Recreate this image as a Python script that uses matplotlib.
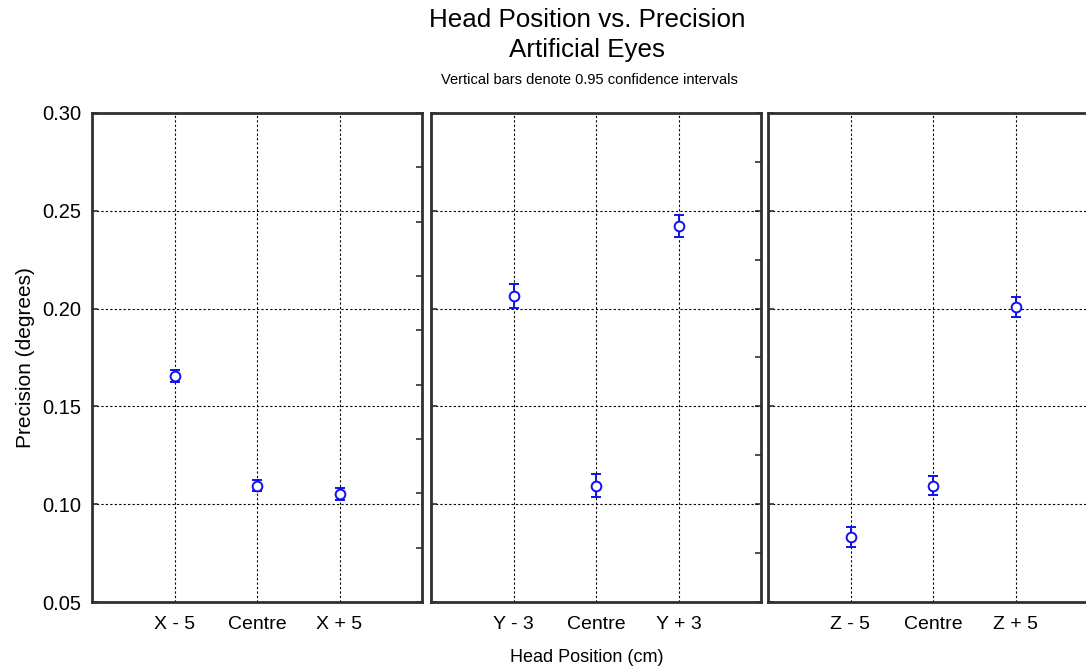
import numpy as np
import matplotlib
matplotlib.use("Agg")
import matplotlib.pyplot as plt

plt.rcParams['font.family'] = ['Liberation Sans', 'DejaVu Sans']

# data
labels_x = ["X - 5", "Centre", "X + 5"]
labels_y = ["Y - 3", "Centre", "Y + 3"]
labels_z = ["Z - 5", "Centre", "Z + 5"]
prec_x = [0.1655, 0.1095, 0.1053]
prec_y = [0.2065, 0.1095, 0.2423]
prec_z = [0.0832, 0.1095, 0.2008]
ci_x = [0.0030, 0.0030, 0.0030]
ci_y = [0.0060, 0.0060, 0.0058]
ci_z = [0.0050, 0.0050, 0.0050]

panels = [(labels_x, prec_x, ci_x), (labels_y, prec_y, ci_y), (labels_z, prec_z, ci_z)]
lefts = [92, 431, 768]

fig = plt.figure(figsize=(10.86, 6.70), dpi=100)
W, H = 1086, 670
spine_col = "#303030"

axes = []
for i, (labs, vals, ci) in enumerate(panels):
    ax = fig.add_axes([lefts[i] / W, 1 - 602 / H, 330 / W, 489 / H])
    axes.append(ax)
    x = np.arange(1, 4)
    ax.errorbar(x, vals, yerr=ci, fmt='o', mfc='white', mec='#1010ee', ms=7, mew=1.4,
                ecolor='#1010ee', elinewidth=1.4, capsize=3.5, capthick=1.4, zorder=5)
    ax.set_xlim(0, 4)
    ax.set_ylim(0.05, 0.30)
    ax.set_xticks(x)
    ax.set_xticklabels(labs, fontsize=14)
    ax.set_yticks(np.arange(0.05, 0.301, 0.05))
    ax.grid(True, color='black', linestyle=(0, (2, 2)), linewidth=0.8)
    ax.tick_params(axis='x', length=0, pad=10)
    ax.tick_params(axis='y', direction='in', length=4, width=1.2, color=spine_col, pad=8)
    for s in ax.spines.values():
        s.set_linewidth(2)
        s.set_color(spine_col)
    if i == 0:
        ax.set_yticklabels(["0.05", "0.10", "0.15", "0.20", "0.25", "0.30"], fontsize=14.5)
        ax.set_ylabel("Precision (degrees)", fontsize=15, labelpad=5)
    else:
        ax.set_yticklabels([])
    # ticks on right spine
    r = ax.secondary_yaxis('right')
    if i == 0:
        r.set_yticks(np.linspace(0.05, 0.30, 10))
    else:
        r.set_yticks(np.arange(0.05, 0.301, 0.025))
    r.tick_params(direction='in', length=4, width=1.2, color=spine_col, labelright=False)
    r.spines['right'].set_visible(False)

fig.text(587 / W, 1 - 20 / H, "Head Position vs. Precision", ha='center', va='center', fontsize=18.7)
fig.text(587 / W, 1 - 50 / H, "Artificial Eyes", ha='center', va='center', fontsize=18.7)
fig.text(589 / W, 1 - 80 / H, "Vertical bars denote 0.95 confidence intervals", ha='center', va='center', fontsize=10.5)
fig.text(587 / W, 1 - 657 / H, "Head Position (cm)", ha='center', va='center', fontsize=13)

fig.savefig("out.png", dpi=100)
